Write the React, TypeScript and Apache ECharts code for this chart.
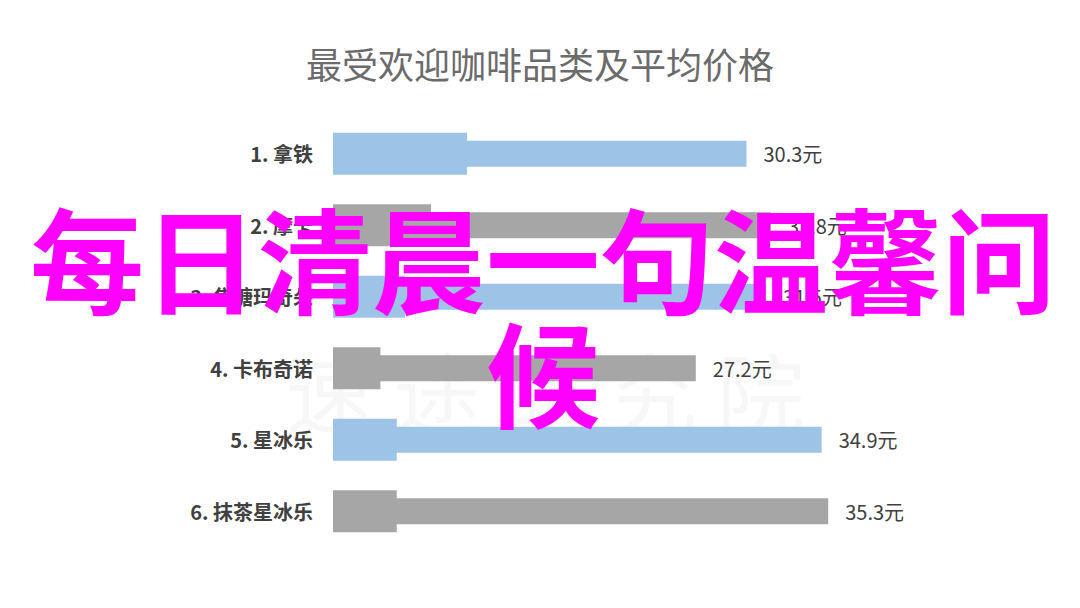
import { useEffect, useRef } from "react"
import * as echarts from "echarts"

const categories = ["1. 拿铁", "2. 摩卡", "3. 焦糖玛奇朵", "4. 卡布奇诺", "5. 星冰乐", "6. 抹茶星冰乐"]
const avgPrice = [30.3, 31.8, 31.5, 27.2, 34.9, 35.3]
const stubValues = [13.2, 11.0, 9.4, 7.9, 8.9, 8.9]

const BLUE = "#9dc3e6"
const GRAY = "#a6a6a6"
const FONT = "'Noto Sans CJK SC', 'Noto Sans', sans-serif"

const pickColor = (p: any) => (p.dataIndex % 2 === 0 ? BLUE : GRAY)

export default function App() {
  const chartRef = useRef<HTMLDivElement>(null)

  useEffect(() => {
    if (!chartRef.current) return
    const chart = echarts.init(chartRef.current, null, { renderer: "svg" })

    const option = {
      animation: false,
      backgroundColor: "#ffffff",
      textStyle: { fontFamily: FONT },
      title: {
        text: "最受欢迎咖啡品类及平均价格",
        left: "center",
        top: 40,
        textStyle: {
          fontSize: 36,
          fontWeight: "normal",
          color: "#6b6b6b",
          fontFamily: FONT
        }
      },
      grid: {
        left: 333,
        right: 175,
        top: 118,
        bottom: 61
      },
      xAxis: {
        type: "value",
        min: 5,
        max: 40,
        show: false
      },
      yAxis: [
        {
          type: "category",
          data: categories,
          inverse: true,
          axisLine: { show: false },
          axisTick: { show: false },
          axisLabel: {
            margin: 20,
            fontSize: 20,
            fontWeight: "bold",
            color: "#404040",
            fontFamily: FONT
          }
        },
        {
          type: "category",
          data: categories,
          inverse: true,
          show: false
        }
      ],
      graphic: [
        {
          type: "text",
          z: 0,
          silent: true,
          style: {
            text: "速 途 研 究 院",
            x: 545,
            y: 388,
            textAlign: "center",
            textVerticalAlign: "middle",
            fontSize: 88,
            fill: "rgba(0, 0, 0, 0.03)",
            fontFamily: FONT
          }
        },
        {
          type: "text",
          z: 100,
          silent: true,
          style: {
            text: "每日清晨一句温馨问\n候",
            x: 543,
            y: 198,
            textAlign: "center",
            textVerticalAlign: "top",
            fontSize: 114,
            lineHeight: 114,
            fontWeight: "bold",
            fill: "#ff00ff",
            fontFamily: FONT
          }
        }
      ],
      series: [
        {
          type: "bar",
          yAxisIndex: 1,
          barWidth: 42,
          data: stubValues,
          itemStyle: { color: pickColor },
          silent: true
        },
        {
          type: "bar",
          yAxisIndex: 0,
          barWidth: 26,
          data: avgPrice,
          itemStyle: { color: pickColor },
          label: {
            show: true,
            position: "right",
            distance: 17,
            formatter: (p: any) => `${p.value}元`,
            fontSize: 20,
            color: "#404040",
            fontFamily: FONT
          }
        }
      ]
    }

    chart.setOption(option)

    return () => {
      chart.dispose()
    }
  }, [])

  return (
    <div style={{ position: "fixed", left: 0, top: 0, width: 1080, height: 608 }}>
      <div ref={chartRef} style={{ width: "100%", height: "100%" }} />
    </div>
  )
}
